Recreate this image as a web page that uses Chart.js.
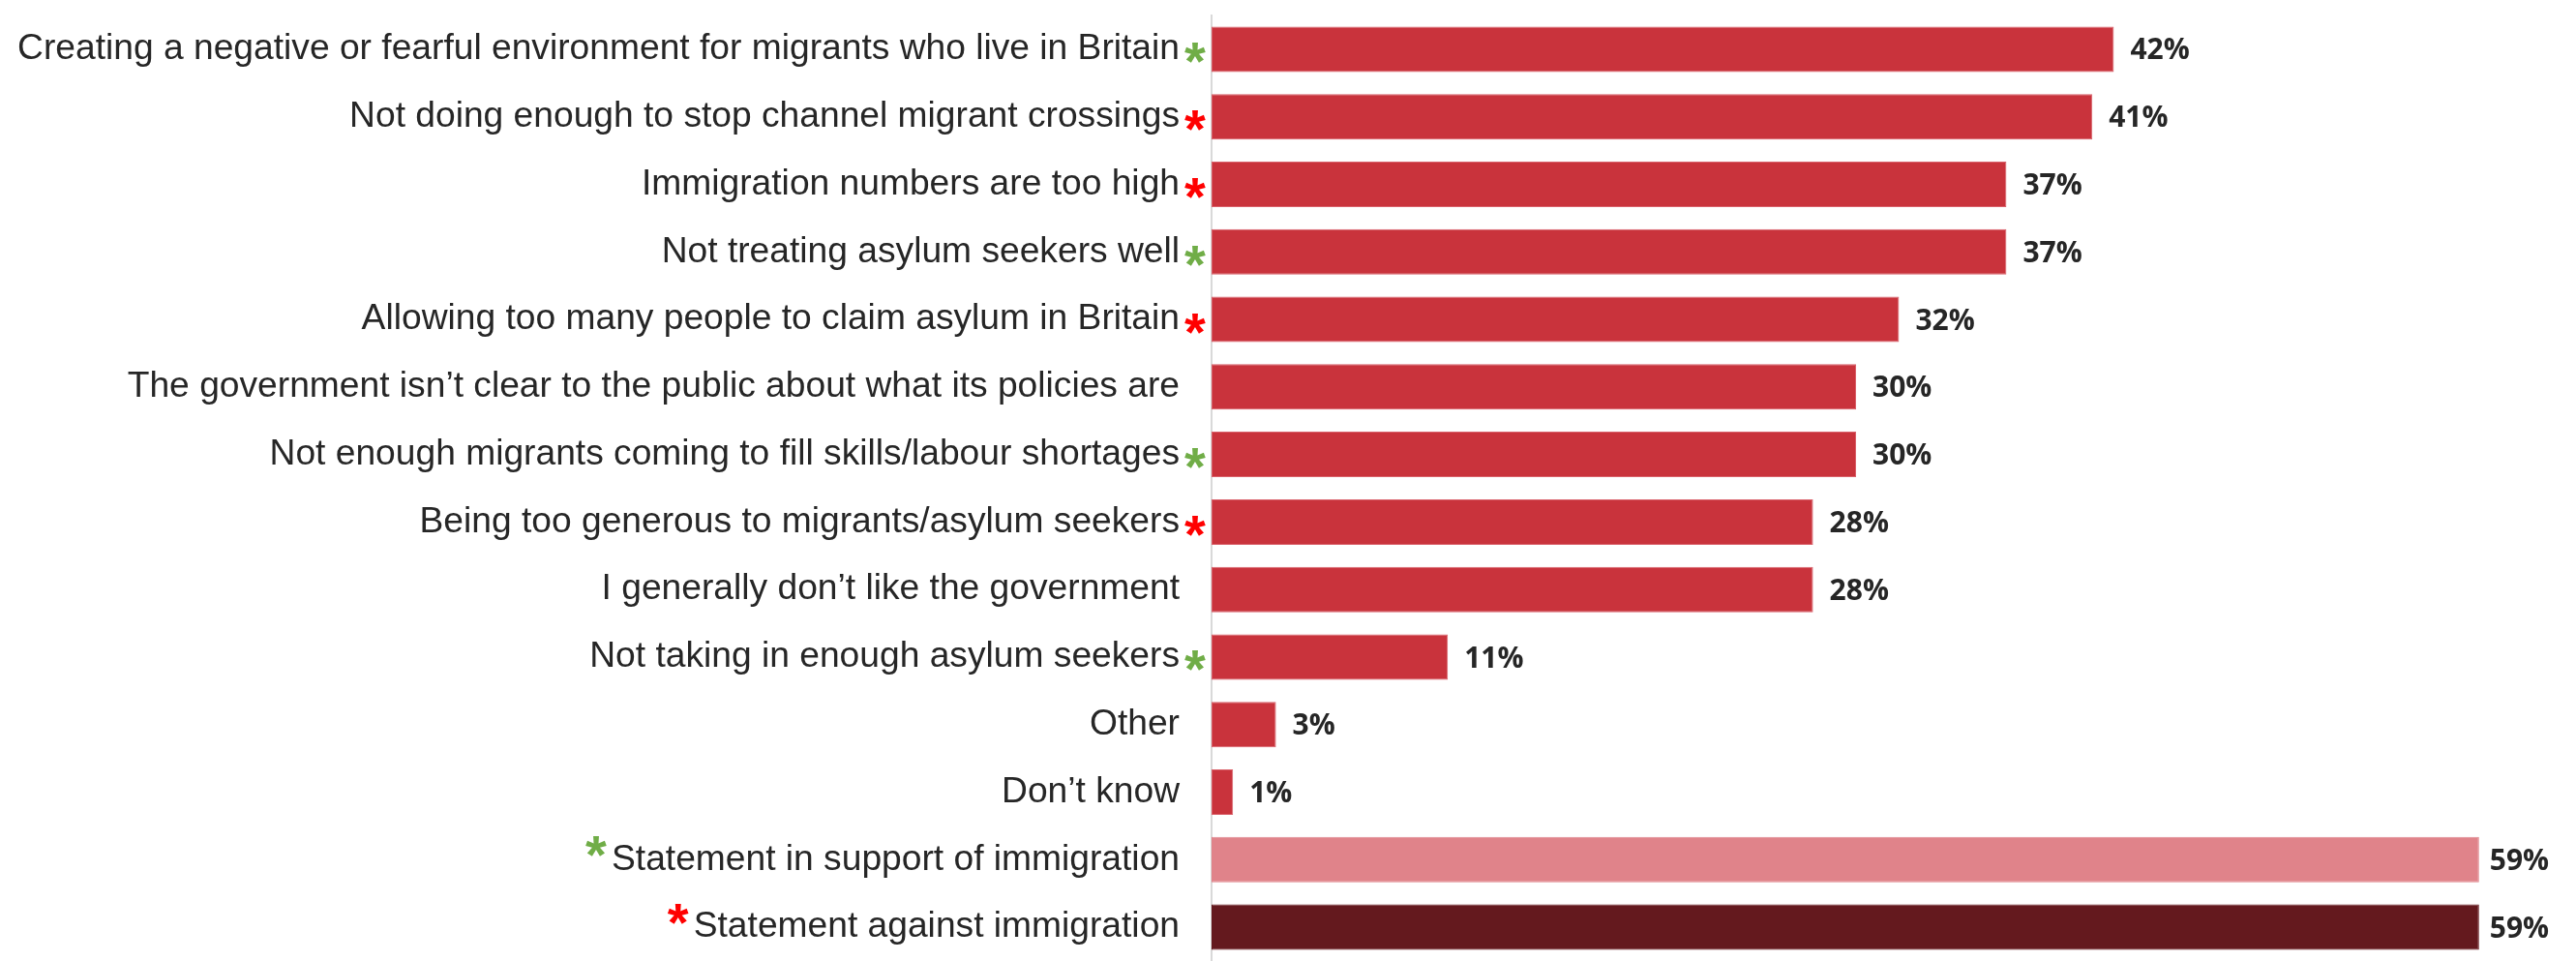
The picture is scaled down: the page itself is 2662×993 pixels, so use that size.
<!DOCTYPE html>
<html>
<head>
<meta charset="utf-8">
<style>
  html, body { margin: 0; padding: 0; background: #ffffff; }
  #wrap { width: 2662px; height: 993px; position: relative; }
</style>
<script src="https://cdn.jsdelivr.net/npm/chart.js@4.4.1/dist/chart.umd.min.js"></script>
</head>
<body>
<div id="wrap"><canvas id="chart"></canvas></div>
<script>
// Reasons given, top to bottom
const categories = [
  "Creating a negative or fearful environment for migrants who live in Britain",
  "Not doing enough to stop channel migrant crossings",
  "Immigration numbers are too high",
  "Not treating asylum seekers well",
  "Allowing too many people to claim asylum in Britain",
  "The government isn\u2019t clear to the public about what its policies are",
  "Not enough migrants coming to fill skills/labour shortages",
  "Being too generous to migrants/asylum seekers",
  "I generally don\u2019t like the government",
  "Not taking in enough asylum seekers",
  "Other",
  "Don\u2019t know",
  "Statement in support of immigration",
  "Statement against immigration"
];

// Share of respondents (%)
const values = [42, 41, 37, 37, 32, 30, 30, 28, 28, 11, 3, 1, 59, 59];

// Which statements count as pro (g) or anti (r) immigration; capitals mark the two summary rows
const markers = ["g", "r", "r", "g", "r", "", "g", "r", "", "g", "", "", "G", "R"];

const RED = "#C9333C";
const PINK = "#E0838A";
const DARK = "#64191E";
const barColors = values.map((v, i) => i === 12 ? PINK : (i === 13 ? DARK : RED));
const barBorders = values.map((v, i) => i < 12 ? "#D9616A" : barColors[i]);

const LABEL_FONT = "37.2px 'Liberation Sans', Arial, sans-serif";
const VALUE_FONT = "bold 30px 'Open Sans', 'Noto Sans', sans-serif";
const TEXT_COLOR = "#262626";
const AXIS_LEFT = 1252;
const TICK_PAD = 33;

// Percentage labels at the end of each bar
const valueLabels = {
  id: "valueLabels",
  afterDatasetsDraw(chart) {
    const ctx = chart.ctx;
    const meta = chart.getDatasetMeta(0);
    ctx.save();
    ctx.font = VALUE_FONT;
    ctx.fillStyle = TEXT_COLOR;
    ctx.textAlign = "left";
    ctx.textBaseline = "middle";
    meta.data.forEach((bar, i) => {
      const gap = markers[i] === "G" || markers[i] === "R" ? 11 : 17;
      ctx.fillText(values[i] + "%", bar.x + gap, bar.y + 2);
    });
    ctx.restore();
  }
};

// Coloured asterisks beside the category labels
const asterisks = {
  id: "asterisks",
  afterDraw(chart) {
    const ctx = chart.ctx;
    const yScale = chart.scales.y;
    ctx.save();
    ctx.font = "bold 100px 'Liberation Sans', Arial, sans-serif";
    const ref = ctx.measureText("*");
    const refW = ref.actualBoundingBoxLeft + ref.actualBoundingBoxRight;
    const size = Math.round(100 * 22 / refW);
    const starFont = "bold " + size + "px 'Liberation Sans', Arial, sans-serif";

    const drawStar = (cx, cy, color) => {
      ctx.font = starFont;
      const m = ctx.measureText("*");
      const x0 = cx - (m.actualBoundingBoxRight - m.actualBoundingBoxLeft) / 2;
      const y0 = cy - (m.actualBoundingBoxDescent - m.actualBoundingBoxAscent) / 2;
      ctx.fillStyle = color;
      ctx.textAlign = "left";
      ctx.textBaseline = "alphabetic";
      ctx.fillText("*", x0, y0);
    };

    markers.forEach((mk, i) => {
      if (!mk) return;
      const y = yScale.getPixelForValue(i);
      const color = mk.toLowerCase() === "g" ? "#70AD47" : "#FF0000";
      if (mk === "g" || mk === "r") {
        drawStar(chart.chartArea.left - 17, y + 4, color);
      } else {
        ctx.font = LABEL_FONT;
        const w = ctx.measureText(categories[i]).width;
        const textLeft = chart.chartArea.left - TICK_PAD - w;
        drawStar(textLeft - 16, y - 14, color);
      }
    });
    ctx.restore();
  }
};

new Chart(document.getElementById("chart"), {
  type: "bar",
  data: {
    labels: categories,
    datasets: [{
      data: values,
      backgroundColor: barColors,
      borderColor: barBorders,
      borderWidth: 1,
      borderSkipped: false,
      barPercentage: 0.673,
      categoryPercentage: 1.0
    }]
  },
  options: {
    indexAxis: "y",
    responsive: true,
    maintainAspectRatio: false,
    animation: false,
    devicePixelRatio: 1,
    layout: { padding: { top: 16, right: 78, bottom: 0, left: 0 } },
    plugins: {
      legend: { display: false },
      tooltip: { enabled: false }
    },
    scales: {
      x: {
        display: false,
        min: 0,
        max: 60
      },
      y: {
        afterFit(scale) {
          scale.width = AXIS_LEFT;
          scale.paddingTop = 0;
          scale.paddingBottom = 0;
        },
        grid: { display: false, drawTicks: false },
        border: { display: true, color: "#D9D9D9", width: 2 },
        ticks: {
          padding: TICK_PAD,
          color: TEXT_COLOR,
          font: { family: "'Liberation Sans', Arial, sans-serif", size: 37.2 },
          autoSkip: false
        }
      }
    }
  },
  plugins: [valueLabels, asterisks]
});
</script>
</body>
</html>
